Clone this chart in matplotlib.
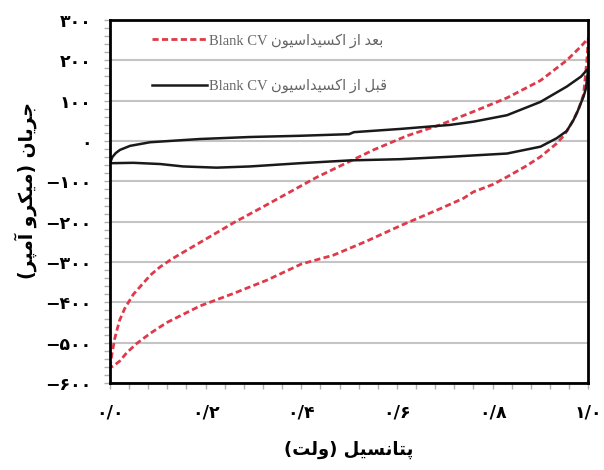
import matplotlib
matplotlib.use('Agg')
from matplotlib import pyplot as plt
from matplotlib.ticker import MultipleLocator, FixedLocator

# CV بعد از اکسیداسیون (خط چین قرمز): رفت و برگشت
red_x_fwd = [0.0, 0.004, 0.01, 0.02, 0.031, 0.049, 0.07, 0.085, 0.105, 0.13, 0.153, 0.202, 0.258,
             0.328, 0.363, 0.432, 0.502, 0.551, 0.621, 0.69, 0.76, 0.83, 0.9, 0.955, 0.985, 1.0]
red_y_fwd = [-562, -530, -490, -445, -415, -380, -352, -332, -312, -292, -276, -242, -203,
             -158, -135, -90, -50, -22, 13, 40, 73, 107, 150, 200, 235, 255]
red_x_rev = [0.997, 0.993, 0.99, 0.98, 0.969, 0.95, 0.934, 0.9, 0.87, 0.83, 0.8, 0.76, 0.739,
             0.69, 0.607, 0.537, 0.467, 0.4, 0.328, 0.258, 0.188, 0.119, 0.084, 0.056,
             0.035, 0.021, 0.007, 0.0]
red_y_rev = [200, 150, 115, 80, 52, 15, -6, -39, -62, -89, -108, -126, -142,
             -168, -210, -248, -283, -305, -345, -378, -409, -450, -477, -502,
             -525, -545, -558, -562]

# CV قبل از اکسیداسیون (خط مشکی)
blk_x_fwd = [0.0, 0.005, 0.012, 0.021, 0.042, 0.084, 0.188, 0.293, 0.397, 0.5, 0.51, 0.607, 0.711,
             0.76, 0.83, 0.9, 0.955, 0.985, 1.0]
blk_y_fwd = [-55, -40, -30, -22, -12, -3, 5, 10, 13, 17, 22, 30, 40,
             48, 64, 97, 135, 160, 180]
blk_x_rev = [0.995, 0.99, 0.977, 0.969, 0.955, 0.934, 0.9, 0.83, 0.711, 0.607, 0.502, 0.397,
             0.293, 0.223, 0.153, 0.105, 0.049, 0.0]
blk_y_rev = [130, 110, 72, 52, 25, 7, -14, -31, -39, -45, -48, -55,
             -63, -66, -63, -57, -54, -55]

y_ticks = [300, 200, 100, 0, -100, -200, -300, -400, -500, -600]
x_ticks = [0.0, 0.2, 0.4, 0.6, 0.8, 1.0]

# شکل‌دهی ساده حروف فارسی (matplotlib خودش این کار را نمی‌کند)
FORMS = {
    'ا': ('\uFE8D', '\uFE8E', None, None),
    'آ': ('\uFE81', '\uFE82', None, None),
    'د': ('\uFEA9', '\uFEAA', None, None),
    'ر': ('\uFEAD', '\uFEAE', None, None),
    'ز': ('\uFEAF', '\uFEB0', None, None),
    'و': ('\uFEED', '\uFEEE', None, None),
    'ب': ('\uFE8F', '\uFE90', '\uFE91', '\uFE92'),
    'پ': ('\uFB56', '\uFB57', '\uFB58', '\uFB59'),
    'ت': ('\uFE95', '\uFE96', '\uFE97', '\uFE98'),
    'ج': ('\uFE9D', '\uFE9E', '\uFE9F', '\uFEA0'),
    'س': ('\uFEB1', '\uFEB2', '\uFEB3', '\uFEB4'),
    'ع': ('\uFEC9', '\uFECA', '\uFECB', '\uFECC'),
    'ق': ('\uFED5', '\uFED6', '\uFED7', '\uFED8'),
    'ک': ('\uFB8E', '\uFB8F', '\uFB90', '\uFB91'),
    'ل': ('\uFEDD', '\uFEDE', '\uFEDF', '\uFEE0'),
    'م': ('\uFEE1', '\uFEE2', '\uFEE3', '\uFEE4'),
    'ن': ('\uFEE5', '\uFEE6', '\uFEE7', '\uFEE8'),
    'ی': ('\uFBFC', '\uFBFD', '\uFBFE', '\uFBFF'),
}


def fa(text):
    out = []
    for i, ch in enumerate(text):
        if ch not in FORMS:
            out.append(ch)
            continue
        prev = text[i - 1] if i > 0 else ''
        nxt = text[i + 1] if i + 1 < len(text) else ''
        join_prev = prev in FORMS and FORMS[prev][2] is not None
        join_next = nxt in FORMS and FORMS[ch][2] is not None
        iso, fin, ini, med = FORMS[ch]
        if join_prev and join_next:
            out.append(med)
        elif join_prev:
            out.append(fin)
        elif join_next:
            out.append(ini)
        else:
            out.append(iso)
    return ''.join(out)[::-1].translate(str.maketrans('()', ')('))


def fa_num(s):
    return s.translate(str.maketrans('0123456789.-', '۰۱۲۳۴۵۶۷۸۹/−'))


plt.rcParams['font.family'] = ['DejaVu Sans']

fig = plt.figure(figsize=(6.04, 4.70), dpi=100)
ax = fig.add_axes([0.182, 0.185, 0.792, 0.7724])

ax.plot(red_x_fwd + red_x_rev, red_y_fwd + red_y_rev, color='#de3a4a', lw=2,
        linestyle=(0, (2.2, 1.2)), label='Blank CV ' + fa('بعد از اکسیداسیون'))
ax.plot(blk_x_fwd + blk_x_rev, blk_y_fwd + blk_y_rev, color='#1a1a1a', lw=1.8,
        label='Blank CV ' + fa('قبل از اکسیداسیون'))

ax.set_xlim(0, 1)
ax.set_ylim(-600, 300)
ax.yaxis.set_major_locator(FixedLocator(y_ticks))
ax.set_yticklabels([fa_num(str(v)) for v in y_ticks], fontsize=12.5, fontweight='bold')
ax.xaxis.set_major_locator(FixedLocator(x_ticks))
ax.set_xticklabels([fa_num('%.1f' % v) for v in x_ticks], fontsize=12.5, fontweight='bold')
ax.yaxis.set_minor_locator(MultipleLocator(20))
ax.xaxis.set_minor_locator(MultipleLocator(0.04))
ax.tick_params(which='both', direction='out', length=4, width=1, color='#b0b0b0')
ax.tick_params(axis='x', which='major', pad=11)
ax.tick_params(axis='y', which='major', pad=9)

ax.yaxis.grid(True, color='#c4c4c4', lw=1.5)
ax.set_axisbelow(True)
for sp in ax.spines.values():
    sp.set_linewidth(2)
    sp.set_color('black')

ax.set_ylabel(fa('جریان (میکرو آمپر)'), fontsize=13.5, fontweight='bold')
ax.yaxis.set_label_coords(-0.152, 0.53)
ax.set_xlabel(fa('پتانسیل (ولت)'), fontsize=13, fontweight='bold')
ax.xaxis.set_label_coords(0.5, -0.16)

leg = ax.legend(loc='upper left', bbox_to_anchor=(0.06, 1.0), frameon=False,
                prop={'family': ['Liberation Serif', 'DejaVu Sans'], 'size': 10.5},
                labelspacing=2.1, handlelength=3.8, handletextpad=0.1)
for t in leg.get_texts():
    t.set_color('#666666')

plt.savefig('out.png', dpi=100)
